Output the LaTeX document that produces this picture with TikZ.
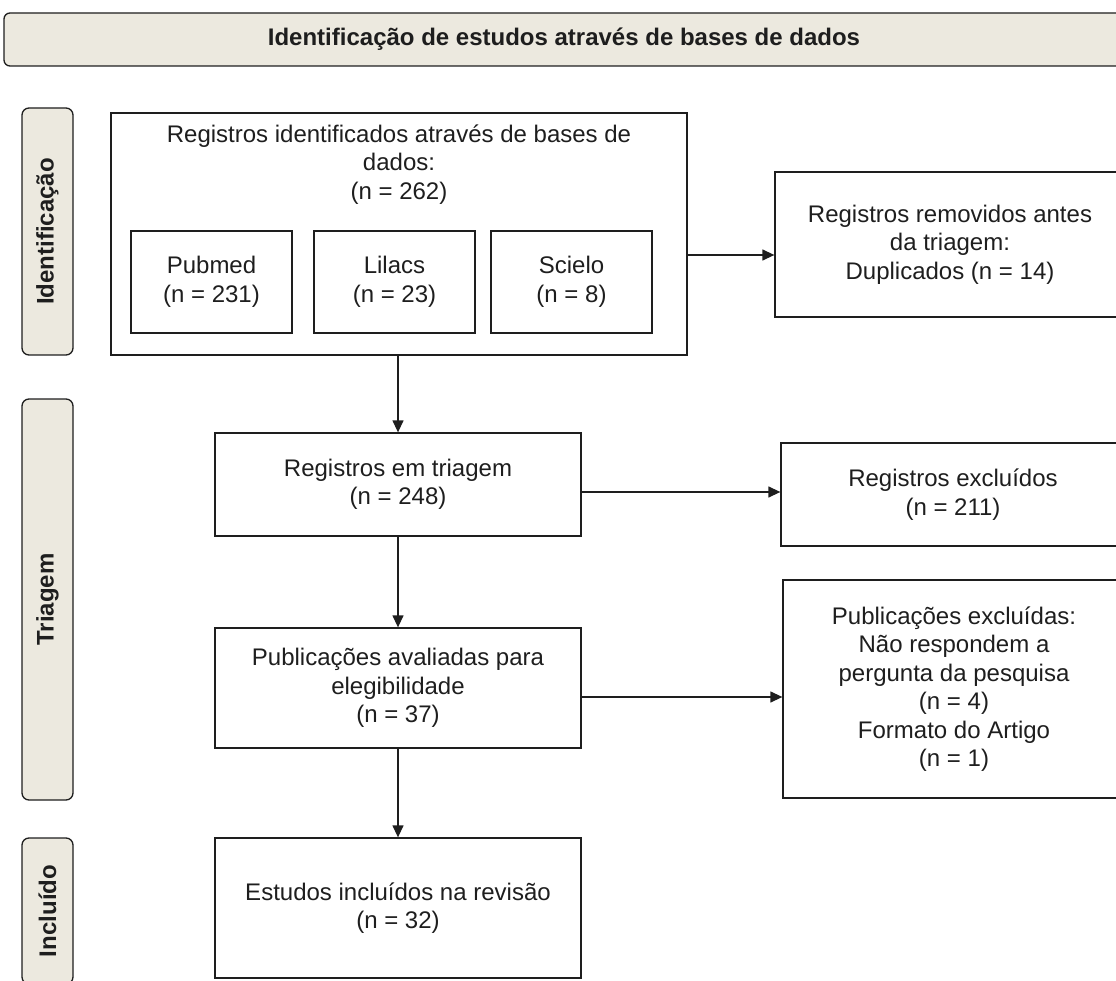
\documentclass[tikz,border=0pt]{standalone}
\usepackage{fontspec}
\setmainfont{Liberation Sans}
\usetikzlibrary{arrows.meta}
\definecolor{beige}{RGB}{236,233,223}
\definecolor{ink}{RGB}{30,30,30}
\begin{document}
\begin{tikzpicture}[x=1pt,y=-1pt,
  txt/.style={align=center,inner sep=0pt,text=ink,font=\fontsize{24}{28.5}\selectfont},
  box/.style={txt,draw=ink,line width=1.3pt},
  lab/.style={draw=ink,line width=1.3pt,fill=beige,rounded corners=7pt,rotate=90,inner sep=0pt,text=ink,font=\bfseries\fontsize{24}{28.5}\selectfont},
  arr/.style={draw=ink,line width=1.3pt,-{Triangle[length=12pt,width=11pt]}},
]
\useasboundingbox (0,0) rectangle (1116,981);
\clip (0,0) rectangle (1116,981);

% banner
\node[draw=ink,line width=1.3pt,fill=beige,rounded corners=6pt,inner sep=0pt,minimum width=1120pt,minimum height=53pt,text=ink,font=\bfseries\fontsize{24}{28.5}\selectfont] (banner) at (564,39.5) {Identificação de estudos através de bases de dados};

% side labels
\node[lab,minimum width=247pt,minimum height=51pt] (lid) at (47.5,231.5) {Identificação};
\node[lab,minimum width=401pt,minimum height=51pt] (ltr) at (47.5,599.5) {Triagem};
\node[lab,minimum width=146pt,minimum height=51pt] (lin) at (47.5,911) {Incluído};

% identification block
\node[box,minimum width=576pt,minimum height=242pt] (big) at (399,234) {};
\node[txt] (bigtxt) at (399,164.5) {Registros identificados através de bases de\\dados:\\(n = 262)};
\node[box,minimum width=161pt,minimum height=102pt] (pubmed) at (211.5,282) {Pubmed\\(n = 231)};
\node[box,minimum width=161pt,minimum height=102pt] (lilacs) at (394.5,282) {Lilacs\\(n = 23)};
\node[box,minimum width=161pt,minimum height=102pt] (scielo) at (571.5,282) {Scielo\\(n = 8)};

\node[box,minimum width=350pt,minimum height=145pt] (rem) at (950,244.5) {Registros removidos antes\\da triagem:\\Duplicados (n = 14)};

% screening
\node[box,minimum width=366pt,minimum height=103pt] (reg) at (398,484.5) {Registros em triagem\\(n = 248)};
\node[box,minimum width=344pt,minimum height=103pt] (excl) at (953,494.5) {Registros excluídos\\(n = 211)};
\node[box,minimum width=366pt,minimum height=120pt] (pub) at (398,688) {Publicações avaliadas para\\elegibilidade\\(n = 37)};
\node[box,minimum width=342pt,minimum height=218pt] (pubex) at (954,689) {Publicações excluídas:\\Não respondem a\\pergunta da pesquisa\\(n = 4)\\Formato do Artigo\\(n = 1)};

% included
\node[box,minimum width=366pt,minimum height=140pt] (est) at (398,908) {Estudos incluídos na revisão\\(n = 32)};

% connectors
\draw[arr] (big.south -| reg.north) -- (reg.north);
\draw[arr] (reg.south) -- (pub.north);
\draw[arr] (pub.south) -- (est.north);

\coordinate (a1) at ([yshift=-21pt]big.east);
\coordinate (a2) at ([yshift=-7.5pt]reg.east);
\coordinate (a3) at ([yshift=-9pt]pub.east);
\draw[arr] (a1) -- (a1 -| rem.west);
\draw[arr] (a2) -- (a2 -| excl.west);
\draw[arr] (a3) -- (a3 -| pubex.west);
\end{tikzpicture}
\end{document}
